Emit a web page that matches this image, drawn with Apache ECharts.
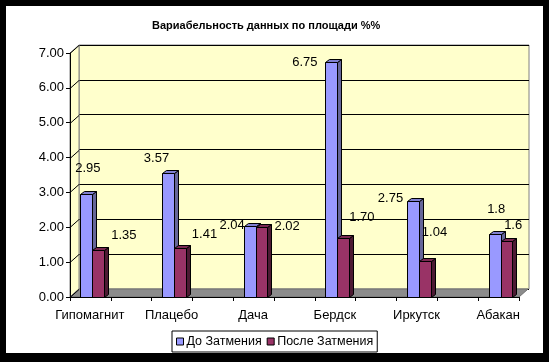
<!DOCTYPE html>
<html>
<head>
<meta charset="utf-8">
<script src="https://cdn.jsdelivr.net/npm/echarts@6/dist/echarts.min.js"></script>
<style>
html,body{margin:0;padding:0;background:#000;}
#chart{width:549px;height:362px;}
</style>
</head>
<body>
<div id="chart"></div>
<script>
// ---- data ----
const chartTitle = 'Вариабельность данных по площади %%';
const categories = ['Гипомагнит', 'Плацебо', 'Дача', 'Бердск', 'Иркутск', 'Абакан'];
const seriesNames = ['До Затмения', 'После Затмения'];
const beforeValues = [2.95, 3.57, 2.04, 6.75, 2.75, 1.8];
const afterValues = [1.35, 1.41, 2.02, 1.70, 1.04, 1.6];
const beforeLabels = ['2.95', '3.57', '2.04', '6.75', '2.75', '1.8'];
const afterLabels = ['1.35', '1.41', '2.02', '1.70', '1.04', '1.6'];
const yMin = 0, yMax = 7, yStep = 1;

// ---- layout / style (not data) ----
const FONT = 'Arial, "Liberation Sans", sans-serif';
const WALL_DX = 9, WALL_DY = -8;
const BAR_DX = 4, BAR_DY = -3;
// label placement relative to category centre / bar top
const beforeLabelShift = [[-2, -26], [-15, -14], [-21, 0], [-30, 1], [-26, -3], [-2, -25]];
const afterLabelShift = [[34, -15], [33, -13], [34, 0], [27, -20], [18, -28], [15, -16]];

const chart = echarts.init(document.getElementById('chart'), null, {renderer: 'canvas'});

function barRenderer(x0, x1, front, side, topc, labels, shifts) {
  return function (params, api) {
    const i = api.value(0), v = api.value(1);
    const t = api.coord([i, v]);
    const b = api.coord([i, 0]);
    const c = t[0];
    const L = Math.round(c + x0) + 0.5, R = Math.round(c + x1) + 0.5;
    const T = Math.round(t[1]) + 0.5, B = Math.round(b[1]) + 0.5;
    const st = {stroke: '#000', lineWidth: 1};
    return {
      type: 'group',
      children: [
        {type: 'polygon', shape: {points: [[R, B], [R, T], [R + BAR_DX, T + BAR_DY], [R + BAR_DX, B + BAR_DY]]},
          style: Object.assign({fill: side}, st)},
        {type: 'polygon', shape: {points: [[L, T], [R, T], [R + BAR_DX, T + BAR_DY], [L + BAR_DX, T + BAR_DY]]},
          style: Object.assign({fill: topc}, st)},
        {type: 'rect', shape: {x: L, y: T, width: R - L, height: B - T},
          style: Object.assign({fill: front}, st)},
        {type: 'text', x: c + shifts[i][0], y: t[1] + shifts[i][1],
          style: {text: labels[i], align: 'center', verticalAlign: 'middle',
            fontSize: 13, fontFamily: FONT, fill: '#000'}}
      ]
    };
  };
}

function wallRenderer(params, api) {
  const cs = params.coordSys;
  const x = cs.x, y = cs.y, w = cs.width, h = cs.height;
  const children = [];
  children.push({type: 'polygon', shape: {points: [[x, y + h], [x, y], [x + WALL_DX, y + WALL_DY], [x + WALL_DX, y + h + WALL_DY]]},
    style: {fill: '#FFFFCC', stroke: '#808080', lineWidth: 1}});
  children.push({type: 'polygon', shape: {points: [[x, y + h], [x + w, y + h], [x + w + WALL_DX, y + h + WALL_DY], [x + WALL_DX, y + h + WALL_DY]]},
    style: {fill: '#8c8c8c', stroke: '#6e6e6e', lineWidth: 1}});
  for (let v = yMin; v <= yMax; v += yStep) {
    const py = Math.round(api.coord([0, v])[1]) + 0.5;
    children.push({type: 'line', shape: {x1: x, y1: py, x2: x + WALL_DX, y2: py + WALL_DY},
      style: {stroke: '#000', lineWidth: 1}});
  }
  return {type: 'group', children: children};
}

const tickSlots = [];
for (let k = 0; k < categories.length * 2 - 1; k++) tickSlots.push('');

const option = {
  backgroundColor: '#000',
  animation: false,
  graphic: {elements: [{type: 'rect', z: -100, shape: {x: 6, y: 6, width: 537, height: 347}, style: {fill: '#fff'}}]},
  title: {
    text: chartTitle, left: 147, top: 15,
    textStyle: {fontSize: 11, fontWeight: 'bold', fontFamily: FONT, color: '#000'}
  },
  legend: {
    data: seriesNames, left: 172, top: 331,
    icon: 'rect', itemWidth: 7, itemHeight: 7, itemGap: 5,
    padding: [4, 4, 4, 4], borderColor: '#000', borderWidth: 1, backgroundColor: '#fff',
    itemStyle: {borderColor: '#000', borderWidth: 1},
    textStyle: {fontSize: 12.5, fontFamily: FONT, color: '#000', padding: [0, 0, 0, -2]}
  },
  grid: [
    {left: 49, right: 10, top: 53, bottom: 65},
    {left: 70, right: 30, top: 53, bottom: 65},
    {left: 79, right: 20, top: 45, bottom: 73, show: true, backgroundColor: '#FFFFCC', borderColor: '#808080', borderWidth: 1}
  ],
  xAxis: [
    {gridIndex: 0, type: 'category', data: categories, axisLine: {show: false}, axisTick: {show: false},
      axisLabel: {margin: 12, fontSize: 13, fontFamily: FONT, color: '#000', interval: 0}},
    {gridIndex: 1, type: 'category', data: tickSlots, boundaryGap: true, z: 10,
      axisLine: {show: true, lineStyle: {color: '#000', width: 1}},
      axisTick: {show: true, length: 4, lineStyle: {color: '#000'}}, axisLabel: {show: false}},
    {gridIndex: 2, type: 'category', data: categories, show: false}
  ],
  yAxis: [
    {gridIndex: 0, type: 'value', min: yMin, max: yMax, interval: yStep, show: false},
    {gridIndex: 1, type: 'value', min: yMin, max: yMax, interval: yStep, z: 10,
      axisLine: {show: true, lineStyle: {color: '#000', width: 1}},
      axisTick: {show: true, length: 4, lineStyle: {color: '#000'}},
      splitLine: {show: false},
      axisLabel: {margin: 6, fontSize: 13, fontFamily: FONT, color: '#000', formatter: v => v.toFixed(2)}},
    {gridIndex: 2, type: 'value', min: yMin, max: yMax, interval: yStep, z: 1,
      axisLine: {show: false}, axisTick: {show: false}, axisLabel: {show: false},
      splitLine: {show: true, lineStyle: {color: '#000', width: 1}}}
  ],
  series: [
    {type: 'custom', name: 'walls', xAxisIndex: 1, yAxisIndex: 1, z: 2, silent: true,
      data: [[0, 0]], renderItem: wallRenderer},
    {type: 'custom', name: seriesNames[0], xAxisIndex: 0, yAxisIndex: 0, z: 3,
      itemStyle: {color: '#9999FF'},
      data: beforeValues.map((v, i) => [i, v]),
      renderItem: barRenderer(-9.5, 2.5, '#9999FF', '#666699', '#8080D0', beforeLabels, beforeLabelShift)},
    {type: 'custom', name: seriesNames[1], xAxisIndex: 0, yAxisIndex: 0, z: 4,
      itemStyle: {color: '#993366'},
      data: afterValues.map((v, i) => [i, v]),
      renderItem: barRenderer(2.5, 14, '#993366', '#4D1A33', '#7A2952', afterLabels, afterLabelShift)}
  ]
};
chart.setOption(option);
</script>
</body>
</html>
